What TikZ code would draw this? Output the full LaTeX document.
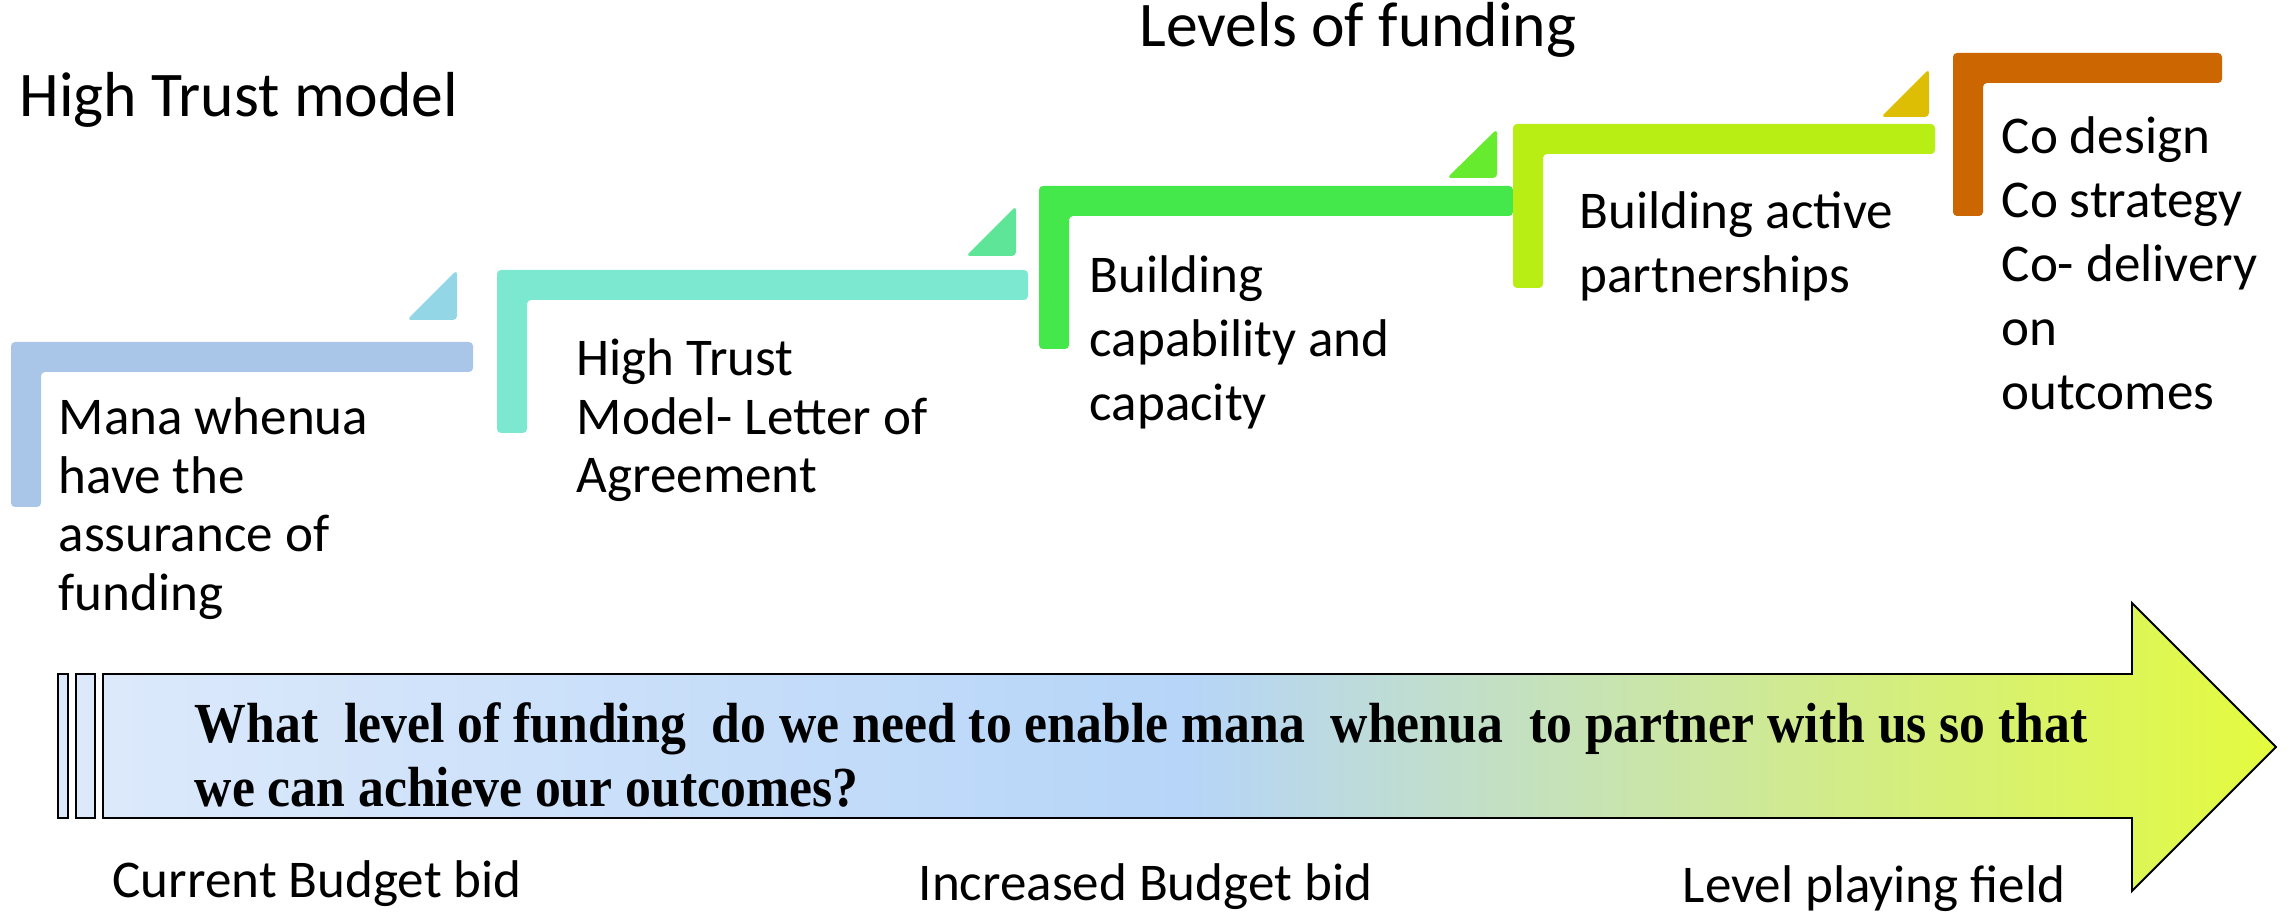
\documentclass[tikz,border=0pt]{standalone}
\usepackage{fontspec}
\setmainfont{Carlito}
\newfontfamily\tnr{Liberation Serif}
\usepackage{graphicx}
\definecolor{s1}{HTML}{A9C6E9}
\definecolor{t1}{HTML}{93D7E6}
\definecolor{s2}{HTML}{7DE8D0}
\definecolor{t2}{HTML}{5FE597}
\definecolor{s3}{HTML}{44E84A}
\definecolor{t3}{HTML}{66EB2E}
\definecolor{s4}{HTML}{B8EE14}
\definecolor{t4}{HTML}{DDBE05}
\definecolor{s5}{HTML}{CC6600}
\definecolor{ga}{HTML}{DCE9FB}
\definecolor{gb}{HTML}{B6D5F8}
\definecolor{gc}{HTML}{E4FB3E}
\newcommand\stepbar[5]{\fill[#5, rounded corners=0.4mm] (#1,#2) -- (#3,#2) -- (#3,#2+30) -- (#1+30,#2+30) -- (#1+30,#4) -- (#1,#4) -- cycle;}
\newcommand\steptri[5]{\fill[#5, rounded corners=0.4mm] (#1,#4) -- (#3,#4) -- (#3,#2) -- cycle;}
\newcommand\lines[1]{\begin{tabular}[t]{@{}l@{}}#1\end{tabular}}
\tikzset{
  lbl/.style={anchor=base west, inner sep=0pt, font=\fontsize{15.1pt}{16.64pt}\selectfont},
  lblw/.style={anchor=base west, inner sep=0pt, font=\fontsize{15.1pt}{18.2pt}\selectfont},
  ttl/.style={anchor=base west, inner sep=0pt, font=\fontsize{18.1pt}{20pt}\selectfont},
  qtxt/.style={anchor=base west, inner sep=0pt, font=\tnr\bfseries\fontsize{16.1pt}{18.2pt}\selectfont},
  sidebar/.style={draw=black, line width=0.55pt, fill=ga}
}
\begin{document}
\begin{tikzpicture}[x=0.1mm,y=-0.1mm]
\useasboundingbox (0,0) rectangle (2292,915);
% steps
\stepbar{11}{342}{473}{507}{s1}
\steptri{407}{270}{457}{320}{t1}
\stepbar{497}{270}{1028}{433}{s2}
\steptri{966}{206}{1016}{256}{t2}
\stepbar{1039}{186}{1513}{349}{s3}
\steptri{1447}{129}{1497}{178}{t3}
\stepbar{1513}{124}{1935}{288}{s4}
\steptri{1881}{69}{1929}{117}{t4}
\stepbar{1953}{53}{2222}{216}{s5}
% titles
\node (title) [ttl] at (1139,47) {Levels of funding};
\node (model) [ttl] at (19,117) {High Trust model};
% step texts
\node (l1) [lbl] at (58,435) {\lines{Mana whenua\\have the\\assurance of\\funding}};
\node (l2) [lbl] at (576,376) {\lines{High Trust\\Model- Letter of\\Agreement}};
\node (l3) [lblw] at (1089,293) {\lines{Building\\capability and\\capacity}};
\node (l4) [lblw] at (1579,229) {\lines{Building active\\partnerships}};
\node (l5) [lblw] at (2001,154) {\lines{Co design\\Co strategy\\Co- delivery\\on\\outcomes}};
% arrow
\path[sidebar] (58,674) rectangle (68,818);
\path[sidebar] (76,674) rectangle (95,818);
\path[draw=black, line width=0.55pt, left color=ga, right color=gc, middle color=gb]
  (103,674) -- (2132,674) -- (2132,603) -- (2276,747) -- (2132,891) -- (2132,818) -- (103,818) -- cycle;
\node (q) [qtxt] at (194,743) {\resizebox{189.3mm}{\height}{\lines{What\ \ level of funding\ \ do we need to enable mana\ \ whenua\ \ to partner with us so that\\we can achieve our outcomes?}}};
% bottom labels
\node (b1) [lbl] at (112,898) {Current Budget bid};
\node (b2) [lbl] at (918,901) {Increased Budget bid};
\node (b3) [lbl] at (1682,903) {Level playing field};
\end{tikzpicture}
\end{document}
